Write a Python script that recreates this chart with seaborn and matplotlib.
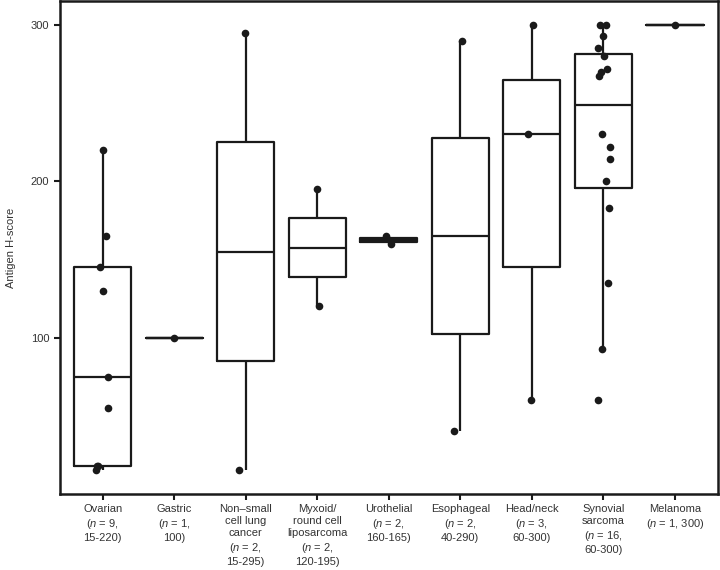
import matplotlib

matplotlib.use("Agg")
import matplotlib.pyplot as plt
import numpy as np
import pandas as pd
import seaborn as sns

# H-scores per tumour type
ovarian = [220, 165, 145, 130, 75, 55, 18, 18, 15]
gastric = [100]
nsclc = [295, 15]
myxoid = [195, 120]
urothelial = [165, 160]
esophageal = [290, 40]
head_neck = [300, 230, 60]
synovial = [300, 300, 293, 285, 280, 272, 270, 267, 230, 222, 214, 200, 183,
            135, 93, 60]
melanoma = [300]

groups = ["Ovarian", "Gastric", "NSCLC", "Myxoid", "Urothelial",
          "Esophageal", "Head/neck", "Synovial", "Melanoma"]
values = [ovarian, gastric, nsclc, myxoid, urothelial, esophageal,
          head_neck, synovial, melanoma]

tick_labels = [
    "Ovarian\n($\\mathit{n}$ = 9,\n15-220)",
    "Gastric\n($\\mathit{n}$ = 1,\n100)",
    "Non\u2013small\ncell lung\ncancer\n($\\mathit{n}$ = 2,\n15-295)",
    "Myxoid/\nround cell\nliposarcoma\n($\\mathit{n}$ = 2,\n120-195)",
    "Urothelial\n($\\mathit{n}$ = 2,\n160-165)",
    "Esophageal\n($\\mathit{n}$ = 2,\n40-290)",
    "Head/neck\n($\\mathit{n}$ = 3,\n60-300)",
    "Synovial\nsarcoma\n($\\mathit{n}$ = 16,\n60-300)",
    "Melanoma\n($\\mathit{n}$ = 1, 300)",
]

df = pd.DataFrame({
    "group": np.repeat(groups, [len(v) for v in values]),
    "score": np.concatenate(values),
})

sns.set_theme(style="ticks")
plt.rcParams["font.family"] = ["Liberation Sans", "DejaVu Sans"]
plt.rcParams["mathtext.fontset"] = "custom"
plt.rcParams["mathtext.rm"] = "Liberation Sans"
plt.rcParams["mathtext.it"] = "Liberation Sans:italic"

ink = "#1a1a1a"
fig = plt.figure(figsize=(7.2, 5.7), dpi=100)
ax = fig.add_axes([0.083, 0.1335, 0.914, 0.864])

sns.boxplot(data=df, x="group", y="score", order=groups, fill=False,
            color=ink, linewidth=1.6, width=0.8, showcaps=False,
            showfliers=False, ax=ax)
np.random.seed(3)
sns.stripplot(data=df, x="group", y="score", order=groups, color=ink,
              size=5.5, jitter=0.1, linewidth=0, ax=ax)

ax.set_xlim(-0.6, 8.6)
ax.set_ylim(0, 315)
ax.set_yticks([100, 200, 300])
ax.set_xticks(range(len(groups)))
ax.set_xticklabels(tick_labels, fontsize=8, color="#333333", va="top",
                   linespacing=1.25)
ax.tick_params(axis="y", labelsize=8, labelcolor="#333333")
ax.tick_params(length=4, width=1.5, color=ink)
ax.set_xlabel("")
ax.set_ylabel("Antigen H-score", fontsize=8, color="#333333", labelpad=11)
for side in ["top", "right", "bottom", "left"]:
    ax.spines[side].set_visible(True)
    ax.spines[side].set_linewidth(1.8)
    ax.spines[side].set_color(ink)

fig.savefig("out.png", dpi=100)
